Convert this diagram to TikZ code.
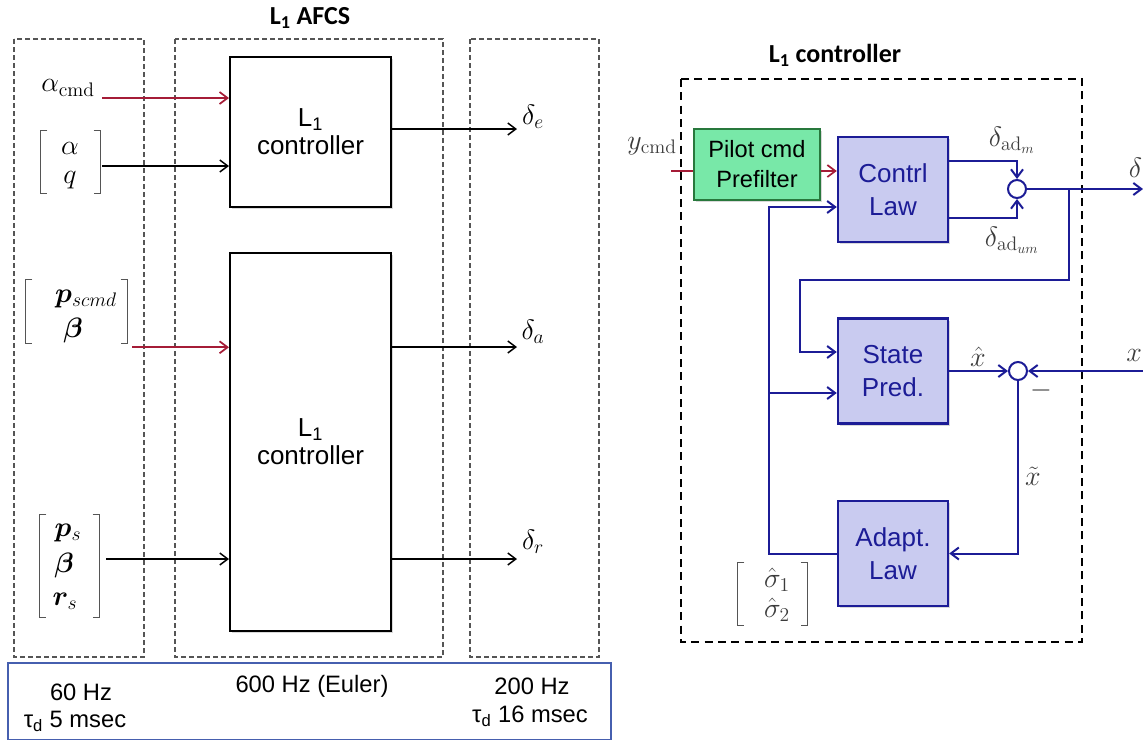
\RequirePackage{fix-cm}
\documentclass[tikz,border=0pt]{standalone}
\usepackage{amsmath,bm}
\usepackage{fontspec}
\newfontfamily\arialf{Liberation Sans}
\newfontfamily\calib{Carlito}
\usetikzlibrary{arrows.meta,calc,shadows}
\definecolor{cblue}{RGB}{28,28,150}
\definecolor{clav}{RGB}{201,203,240}
\definecolor{cgreen}{RGB}{120,232,168}
\definecolor{cdgreen}{RGB}{40,120,60}
\definecolor{cred}{RGB}{165,28,55}
\definecolor{cframe}{RGB}{70,95,175}
\definecolor{cgray}{RGB}{85,85,85}
\definecolor{clabel}{RGB}{60,60,60}
\newcommand\brkts[1]{%
  \draw[brkline] ([xshift=5pt]#1.north west) -| (#1.south west) -- ++(5pt,0pt);
  \draw[brkline] ([xshift=-5pt]#1.north east) -| (#1.south east) -- ++(-5pt,0pt);}
\begin{document}
\begin{tikzpicture}[x=0.75pt,y=-0.75pt,
  shadowed/.style={drop shadow={shadow xshift=1.5pt,shadow yshift=-1.5pt,opacity=0.3}},
  blk/.style={draw=black,line width=1.5pt,fill=white,minimum width=120.75pt,
    font=\arialf\fontsize{19.5}{21}\selectfont,align=center,shadowed},
  bbox/.style={draw=cblue,line width=1.8pt,fill=clav,text=cblue,minimum width=82.5pt,
    minimum height=78.75pt,font=\arialf\fontsize{19.5}{24.5}\selectfont,align=center,shadowed},
  gbox/.style={draw=cdgreen,line width=1pt,fill=cgreen,minimum width=94.5pt,
    minimum height=53.25pt,font=\arialf\fontsize{17.7}{22.5}\selectfont,align=center,shadowed},
  sumc/.style={circle,draw=cblue,line width=1.5pt,fill=white,minimum size=13.5pt,inner sep=0pt},
  arr/.style={-{Straight Barb[length=6pt,width=9pt]},line width=1.1pt,black},
  rarr/.style={-{Straight Barb[length=6pt,width=9pt]},line width=1.3pt,cred},
  barr/.style={-{Straight Barb[length=6pt,width=9pt]},line width=1.5pt,cblue},
  mathlbl/.style={font=\fontsize{21}{24}\selectfont,text=black,inner sep=1pt},
  rlbl/.style={font=\fontsize{21}{24}\selectfont,text=clabel,inner sep=1pt},
  brk/.style={draw=none,inner sep=0pt},
  brkline/.style={cgray,line width=0.8pt},
  lframe/.style={cgray,line width=0.9pt,dash pattern=on 3.5pt off 2.5pt},
  btxt/.style={font=\arialf\fontsize{17.8}{20}\selectfont,inner sep=1pt},
  title/.style={font=\calib\bfseries\fontsize{19.5}{22}\selectfont}]
\useasboundingbox (0,0) rectangle (1143,740);
% ---------------- left part ----------------
\node[title] (t1) at (310,18) {L\textsubscript{1} AFCS};
\draw[lframe] (14,39) rectangle (144,657);
\draw[lframe] (175,39) rectangle (443,657);
\draw[lframe] (470,39) rectangle (599,657);
\node[blk,minimum height=112.5pt] (ctrlA) at (310.5,132) {L\textsubscript{1}\\controller};
\node[blk,minimum height=283.5pt] (ctrlB) at (310.5,442) {L\textsubscript{1}\\controller};
% inputs
\node[mathlbl] (acmd) at (68,88) {$\alpha_{\mathrm{cmd}}$};
\coordinate (a1) at (102,98);
\draw[rarr] (a1) -- (a1 -| ctrlA.west);
\node[brk,minimum width=44.25pt,minimum height=46.5pt] (vq) at (70.5,162) {};
\brkts{vq}
\node[mathlbl] (valpha) at (70,148) {$\alpha$};
\node[mathlbl] (vqq) at (70,180) {$q$};
\coordinate (a2) at ($(vq.east)+(2,4)$);
\draw[arr] (a2) -- (a2 -| ctrlA.west);
\node[brk,minimum width=75.75pt,minimum height=47.25pt] (vp) at (76.5,311.5) {};
\brkts{vp}
\node[mathlbl] (vp1) at (86,299) {$\bm{p}_{scmd}$};
\node[mathlbl] (vp2) at (73,330) {$\bm{\beta}$};
\coordinate (a3) at ($(vp.south east)+(5,4)$);
\draw[rarr] (a3) -- (a3 -| ctrlB.west);
\node[brk,minimum width=44.25pt,minimum height=76.5pt] (vr) at (69.5,566) {};
\brkts{vr}
\node[mathlbl] (vr1) at (68,533) {$\bm{p}_{s}$};
\node[mathlbl] (vr2) at (64,565) {$\bm{\beta}$};
\node[mathlbl] (vr3) at (65,601) {$\bm{r}_{s}$};
\coordinate (a4) at ($(vr.east)+(7,-7)$);
\draw[arr] (a4) -- (a4 -| ctrlB.west);
% outputs
\coordinate (de) at (517,129);
\draw[arr] (de -| ctrlA.east) -- (de);
\node[mathlbl] (lde) at (533,117) {$\delta_e$};
\coordinate (da) at (517,347);
\draw[arr] (da -| ctrlB.east) -- (da);
\node[mathlbl] (lda) at (533,332) {$\delta_a$};
\coordinate (dr) at (517,559);
\draw[arr] (dr -| ctrlB.east) -- (dr);
\node[mathlbl] (ldr) at (533,542) {$\delta_r$};
% rates
\draw[cframe,line width=1.1pt] (8,663) rectangle (611,739.5);
\node[btxt] (r1) at (81,692) {60 Hz};
\node[btxt] (r2) at (75,721) {τ\textsubscript{d} 5 msec};
\node[btxt] (r3) at (312,686) {600 Hz (Euler)};
\node[btxt] (r4) at (532,686) {200 Hz};
\node[btxt] (r5) at (530,716) {τ\textsubscript{d} 16 msec};
% ---------------- right part ----------------
\node[title] (t2) at (835,55) {L\textsubscript{1} controller};
\draw[black,line width=1.6pt,dash pattern=on 6pt off 4pt] (681,79) rectangle (1082,642);
\node[gbox] (pf) at (757,164.5) {Pilot cmd\\Prefilter};
\node[bbox] (cl) at (893,189.5) {Contrl\\Law};
\node[bbox] (sp) at (893,371) {State\\Pred.};
\node[bbox] (al) at (893,553.5) {Adapt.\\Law};
\node[sumc] (s1) at (1017,189) {};
\node[sumc] (s2) at (1018,371) {};
% labels
\node[rlbl] (ycmd) at (652,146) {$y_{\mathrm{cmd}}$};
\node[rlbl] (dadm) at (1012,140) {$\delta_{\mathrm{ad}_m}$};
\node[rlbl] (dadum) at (1012,240) {$\delta_{\mathrm{ad}_{um}}$};
\node[rlbl,anchor=east,inner sep=0.5pt] (dlt) at (1143,168) {$\delta$};
\node[rlbl] (xhat) at (978,357) {$\hat{x}$};
\node[rlbl,anchor=east,inner sep=0.5pt] (xlab) at (1143,355) {$x$};
\node[rlbl] (minus) at (1041,390) {$-$};
\node[rlbl] (xtil) at (1033,476) {$\tilde{x}$};
\node[brk,minimum width=51.75pt,minimum height=46.5pt] (vs) at (772.5,594) {};
\brkts{vs}
\node[rlbl] (vs1) at (777,580) {$\hat{\sigma}_1$};
\node[rlbl] (vs2) at (777,610) {$\hat{\sigma}_2$};
% connectors
\coordinate (yin) at (671,171);
\draw[cred,line width=1.3pt] (yin) -- (yin -| pf.west);
\draw[rarr] (yin -| pf.east) -- (yin -| cl.west);
\draw[barr] ($(cl.east)+(0,-28.5)$) -| (s1.north);
\draw[barr] ($(cl.east)+(0,28.5)$) -| (s1.south);
\coordinate (dout) at (1143,189);
\draw[barr] (s1.east) -- (dout);
\coordinate (br) at (1069,189);
\draw[barr] (br) -- (1069,280) -- (800,280) |- ($(sp.west)+(0,-19)$);
\draw[barr] (sp.east) -- (s2.west);
\coordinate (xin) at (1143,371);
\draw[barr] (xin) -- (s2.east);
\draw[barr] (s2.south) |- (al.east);
\coordinate (b1) at (769,553.5);
\coordinate (b2) at (769,393);
\draw[barr] (al.west) -- (b1) |- ($(cl.west)+(0,17.5)$);
\draw[barr] (b2) -- (b2 -| sp.west);
\end{tikzpicture}
\end{document}
